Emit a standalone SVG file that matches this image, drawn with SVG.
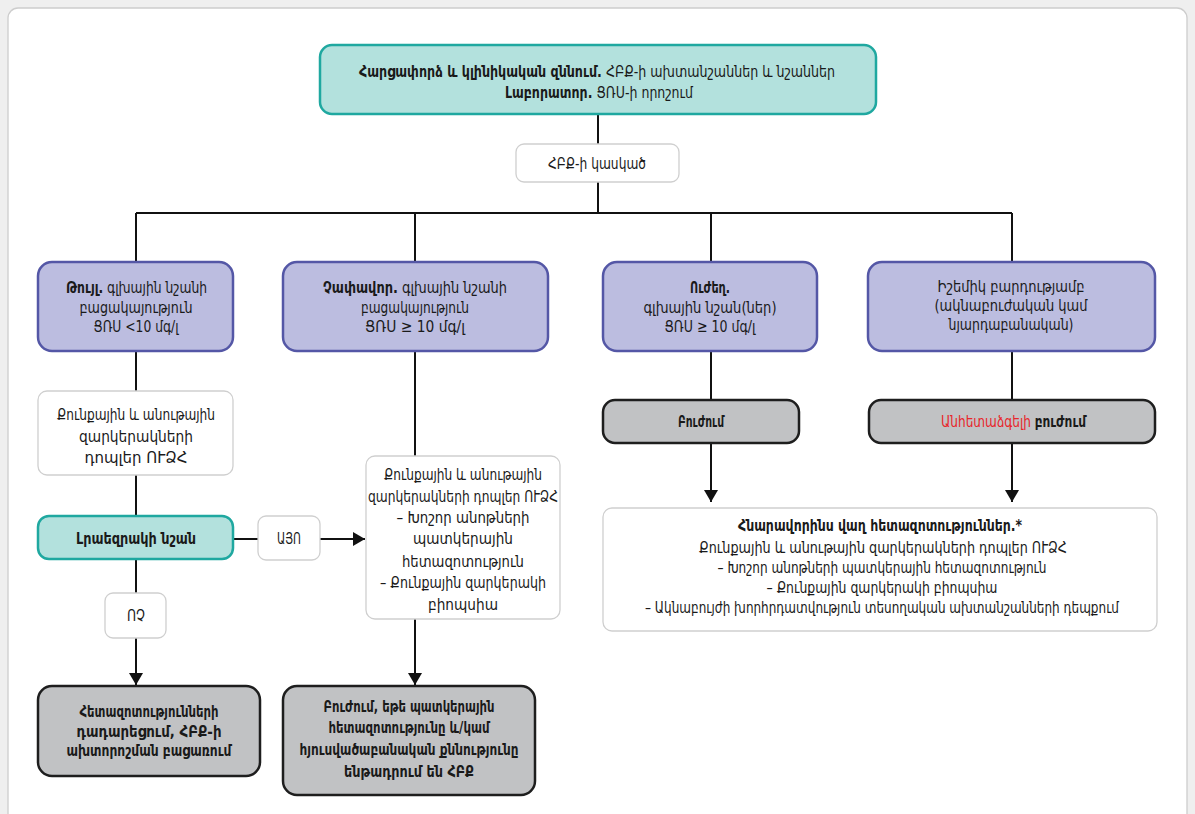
<svg xmlns="http://www.w3.org/2000/svg" width="1195" height="814" viewBox="0 0 1195 814">
<defs>
<marker id="arr" viewBox="0 0 12 14" refX="12" refY="7" markerWidth="12" markerHeight="14" markerUnits="userSpaceOnUse" orient="auto">
<path d="M0,0 L12,7 L0,14 Z" fill="#111"/>
</marker>
<style>
text{font-family:"DejaVu Sans Condensed","DejaVu Sans",sans-serif;font-size:16.5px;fill:#1a1a1a;text-anchor:middle;font-stretch:condensed}
.b{font-weight:bold}
.l{text-anchor:start}
.red{fill:#e8262b}
.sm{font-size:15px}
.teal{fill:#b3e1dd;stroke:#1fa8a0;stroke-width:2.5}
.purp{fill:#bcbde0;stroke:#5457a6;stroke-width:2.5}
.gray{fill:#c1c2c4;stroke:#1e1e1e;stroke-width:2.5}
.wht{fill:#fff;stroke:#cfcfcf;stroke-width:1.3}
.ln{fill:none;stroke:#111;stroke-width:2}
</style>
</defs>
<rect x="0" y="0" width="1195" height="814" fill="#efefef"/>
<rect x="8" y="8" width="1179" height="830" rx="10" fill="#fff" stroke="#cdcdcd" stroke-width="1.3"/>

<g id="connectors">
<path class="ln" d="M598,114 V145 M598,182 V213 M136,213 H1012 M136,213 V262 M415,213 V262 M711,213 V262 M1012,213 V262"/>
<path class="ln" d="M136,351 V391 M136,475 V516 M136,559 V593"/>
<path class="ln" d="M136,638 V685" marker-end="url(#arr)"/>
<path class="ln" d="M233,539 H258"/>
<path class="ln" d="M320,539 H365" marker-end="url(#arr)"/>
<path class="ln" d="M415,351 V456"/>
<path class="ln" d="M415,619 V685" marker-end="url(#arr)"/>
<path class="ln" d="M711,351 V400 M1012,351 V400"/>
<path class="ln" d="M711,443 V502" marker-end="url(#arr)"/>
<path class="ln" d="M1012,443 V502" marker-end="url(#arr)"/>
</g>

<g id="top">
<rect class="teal" x="320" y="45" width="556" height="69" rx="12"/>
<text class="l" x="359" y="77" textLength="476" lengthAdjust="spacingAndGlyphs"><tspan class="b">Հարցափորձ և կլինիկական զննում.</tspan> ՀԲՔ-ի ախտանշաններ և նշաններ</text>
<text class="l" x="505" y="98" textLength="188" lengthAdjust="spacingAndGlyphs"><tspan class="b">Լաբորատոր.</tspan> ՑՌՍ-ի որոշում</text>
</g>

<g id="suspect">
<rect class="wht" x="516" y="144" width="163" height="38" rx="8"/>
<text x="597" y="169" textLength="98" lengthAdjust="spacingAndGlyphs">ՀԲՔ-ի կասկած</text>
</g>

<g id="low">
<rect class="purp" x="38" y="262" width="195" height="89" rx="14"/>
<text class="l" x="66" y="293" textLength="141" lengthAdjust="spacingAndGlyphs"><tspan class="b">Թույլ.</tspan> գլխային նշանի</text>
<text x="136" y="313" textLength="113" lengthAdjust="spacingAndGlyphs">բացակայություն</text>
<text x="136" y="332" textLength="85" lengthAdjust="spacingAndGlyphs">ՑՌՍ &lt;10 մգ/լ</text>
</g>

<g id="moderate">
<rect class="purp" x="283" y="262" width="265" height="89" rx="14"/>
<text class="l" x="323" y="293" textLength="184" lengthAdjust="spacingAndGlyphs"><tspan class="b">Չափավոր.</tspan> գլխային նշանի</text>
<text x="415" y="313" textLength="108" lengthAdjust="spacingAndGlyphs">բացակայություն</text>
<text x="415" y="332" textLength="100" lengthAdjust="spacingAndGlyphs">ՑՌՍ ≥ 10 մգ/լ</text>
</g>

<g id="strong">
<rect class="purp" x="603" y="262" width="214" height="89" rx="14"/>
<text class="b" x="710" y="293" textLength="40" lengthAdjust="spacingAndGlyphs">Ուժեղ.</text>
<text x="710" y="313" textLength="133" lengthAdjust="spacingAndGlyphs">գլխային նշան(ներ)</text>
<text x="710" y="332" textLength="91" lengthAdjust="spacingAndGlyphs">ՑՌՍ ≥ 10 մգ/լ</text>
</g>

<g id="ischemic">
<rect class="purp" x="868" y="262" width="287" height="89" rx="14"/>
<text x="1011" y="292" textLength="147" lengthAdjust="spacingAndGlyphs">Իշեմիկ բարդությամբ</text>
<text x="1011" y="311" textLength="153" lengthAdjust="spacingAndGlyphs">(ակնաբուժական կամ</text>
<text x="1011" y="330" textLength="125" lengthAdjust="spacingAndGlyphs">նյարդաբանական)</text>
</g>

<g id="doppler1">
<rect class="wht" x="38" y="391" width="195" height="84" rx="9"/>
<text x="136" y="420" textLength="158" lengthAdjust="spacingAndGlyphs">Քունքային և անութային</text>
<text x="136" y="442" textLength="114" lengthAdjust="spacingAndGlyphs">զարկերակների</text>
<text x="136" y="463" textLength="103" lengthAdjust="spacingAndGlyphs">դոպլեր ՈՒՁՀ</text>
</g>

<g id="extra">
<rect class="teal" x="38" y="516" width="195" height="43" rx="11"/>
<text class="b" x="136" y="544" textLength="120" lengthAdjust="spacingAndGlyphs">Լրաեզրակի նշան</text>
</g>

<g id="yes">
<rect class="wht" x="258" y="516" width="62" height="44" rx="8"/>
<text x="289" y="544" textLength="24" lengthAdjust="spacingAndGlyphs">ԱՅՈ</text>
</g>

<g id="no">
<rect class="wht" x="105" y="593" width="61" height="45" rx="8"/>
<text x="136" y="621" textLength="18" lengthAdjust="spacingAndGlyphs">ՈՉ</text>
</g>

<g id="tests-center">
<rect class="wht" x="366" y="456" width="194" height="163" rx="9"/>
<text x="463" y="480" textLength="158" lengthAdjust="spacingAndGlyphs">Քունքային և անութային</text>
<text x="463" y="502" textLength="190" lengthAdjust="spacingAndGlyphs">զարկերակների դոպլեր ՈՒՁՀ</text>
<text x="463" y="523" textLength="133" lengthAdjust="spacingAndGlyphs">– Խոշոր անոթների</text>
<text x="463" y="544" textLength="100" lengthAdjust="spacingAndGlyphs">պատկերային</text>
<text x="463" y="567" textLength="122" lengthAdjust="spacingAndGlyphs">հետազոտություն</text>
<text x="463" y="588" textLength="166" lengthAdjust="spacingAndGlyphs">– Քունքային զարկերակի</text>
<text x="463" y="610" textLength="70" lengthAdjust="spacingAndGlyphs">բիոպսիա</text>
</g>

<g id="treat">
<rect class="gray" x="603" y="400" width="196" height="43" rx="12"/>
<text class="b" x="701" y="427" textLength="46" lengthAdjust="spacingAndGlyphs">Բուժում</text>
</g>

<g id="urgent">
<rect class="gray" x="869" y="400" width="286" height="43" rx="12"/>
<text class="l" x="941" y="427" textLength="145" lengthAdjust="spacingAndGlyphs"><tspan class="red">Անհետաձգելի</tspan> <tspan class="b">բուժում</tspan></text>
</g>

<g id="tests-right">
<rect class="wht" x="603" y="508" width="554" height="123" rx="9"/>
<text class="b" x="880" y="531" textLength="284" lengthAdjust="spacingAndGlyphs">Հնարավորինս վաղ հետազոտություններ.*</text>
<text x="883" y="553" textLength="368" lengthAdjust="spacingAndGlyphs">Քունքային և անութային զարկերակների դոպլեր ՈՒՁՀ</text>
<text x="882" y="573" textLength="329" lengthAdjust="spacingAndGlyphs">– Խոշոր անոթների պատկերային հետազոտություն</text>
<text x="882" y="593" textLength="231" lengthAdjust="spacingAndGlyphs">– Քունքային զարկերակի բիոպսիա</text>
<text class="sm" x="882" y="613" textLength="474" lengthAdjust="spacingAndGlyphs" style="font-size:16.5px">– Ակնաբույժի խորհրդատվություն տեսողական ախտանշանների դեպքում</text>
</g>

<g id="stop">
<rect class="gray" x="38" y="686" width="222" height="90" rx="14"/>
<text class="b" x="149" y="717" textLength="139" lengthAdjust="spacingAndGlyphs">Հետազոտությունների</text>
<text class="b" x="149" y="737" textLength="145" lengthAdjust="spacingAndGlyphs">դադարեցում, ՀԲՔ-ի</text>
<text class="b" x="149" y="756" textLength="165" lengthAdjust="spacingAndGlyphs">ախտորոշման բացառում</text>
</g>

<g id="treat-if">
<rect class="gray" x="283" y="686" width="252" height="109" rx="14"/>
<text class="b" x="409" y="712" textLength="171" lengthAdjust="spacingAndGlyphs">Բուժում, եթե պատկերային</text>
<text class="b" x="409" y="733" textLength="161" lengthAdjust="spacingAndGlyphs">հետազոտությունը և/կամ</text>
<text class="b" x="409" y="755" textLength="219" lengthAdjust="spacingAndGlyphs">հյուսվածաբանական քննությունը</text>
<text class="b" x="409" y="777" textLength="130" lengthAdjust="spacingAndGlyphs">ենթադրում են ՀԲՔ</text>
</g>
</svg>
